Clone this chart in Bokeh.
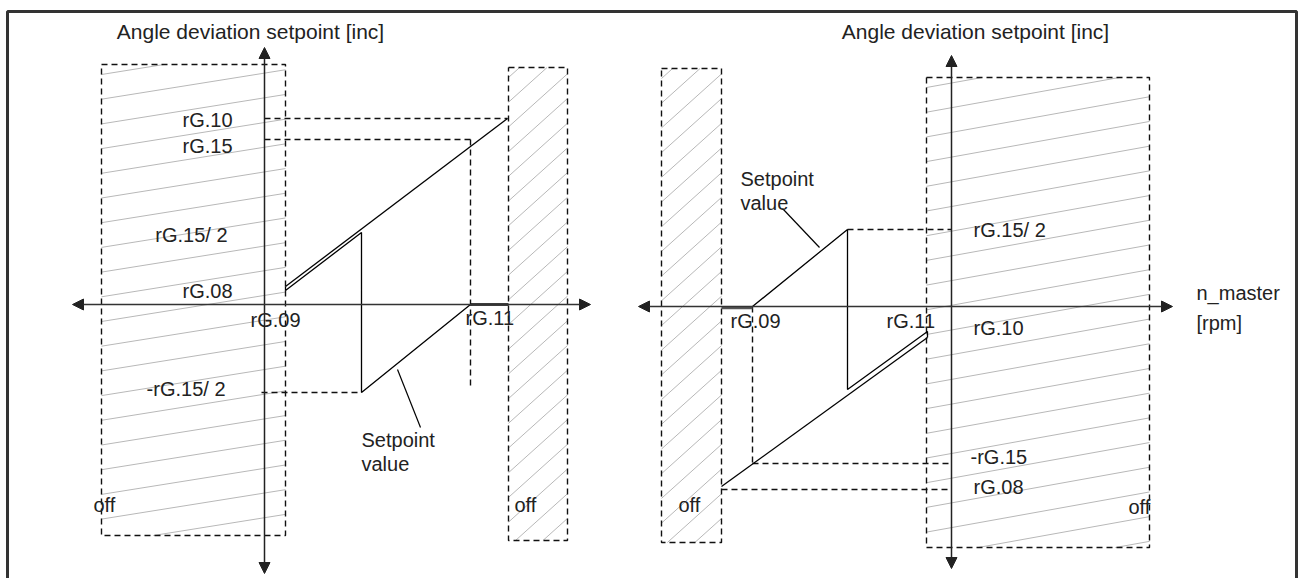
from bokeh.plotting import figure
from bokeh.models import Range1d, Arrow, NormalHead
from bokeh.embed import file_html
from bokeh.resources import INLINE
from bokeh.core.properties import value

# ---------------- diagram data (diagram units, y grows downward) ----------------
# Left diagram
L_axis_x = 264
L_axis_y = 304
L_v_axis = [47, 573]          # vertical axis extent
L_h_axis = [72, 590]          # horizontal axis extent
L_rG09 = 285
L_rG11 = 470
L_jump = 361
L_end = 507
L_rG10 = 118
L_rG15 = 139
L_rG08 = 288
L_half_pos = 230
L_half_neg = 392

# Right diagram
R_axis_x = 951
R_axis_y = 306
R_v_axis = [55, 568]
R_h_axis = [638, 1172]
R_start = 721
R_rG09 = 752
R_jump = 847
R_rG11 = 927
R_half_pos = 229
R_neg15 = 463
R_rG08 = 489
R_low_start = 486

# "off" zones: x0, x1, y0, y1, hatch slope
zones_x0 = [101, 508, 661, 926]
zones_x1 = [285, 567, 721, 1149]
zones_y0 = [64, 67, 68, 77]
zones_y1 = [535, 540, 542, 547]
zones_slope = [0.16, 0.9, 0.9, 0.18]

title_text = "Angle deviation setpoint [inc]"

ink = "#222222"
font = value("Liberation Sans")
FS = "20px"

p = figure(width=1304, height=578, output_backend="svg", toolbar_location=None,
           x_range=Range1d(0, 1304), y_range=Range1d(578, 0),
           x_axis_location=None, y_axis_location=None, min_border=0,
           background_fill_color="white", border_fill_color="white")
p.grid.visible = False
p.outline_line_color = None

# ---------------- outer frame ----------------
p.line([7, 7, 1296, 1296], [590, 11, 11, 590], line_color="#333333", line_width=3)

# ---------------- hatched "off" zones ----------------
def hatch(x0, x1, y0, y1, s, spacing=24.7):
    xs, ys = [], []
    c = y0 + 10
    cmax = y1 + s * (x1 - x0)
    while c < cmax:
        a = max(x0, x0 + (c - y1) / s)
        b = min(x1, x0 + (c - y0) / s)
        if b > a:
            xs.append([a, b])
            ys.append([c - s * (a - x0), c - s * (b - x0)])
        c += spacing
    return xs, ys

for x0, x1, y0, y1, s in zip(zones_x0, zones_x1, zones_y0, zones_y1, zones_slope):
    hx, hy = hatch(x0, x1, y0, y1, s)
    p.multi_line(hx, hy, line_color="#b8b8b8", line_width=1)
    p.line([x0, x1, x1, x0, x0], [y0, y0, y1, y1, y0], line_color="#111111",
           line_width=1.4, line_dash="6 4")

# ---------------- axes with arrows ----------------
for ax, ay, vy, hx in [(L_axis_x, L_axis_y, L_v_axis, L_h_axis),
                       (R_axis_x, R_axis_y, R_v_axis, R_h_axis)]:
    p.add_layout(Arrow(x_start=ax, y_start=vy[1], x_end=ax, y_end=vy[0],
                       line_color=ink, line_width=1.5,
                       start=NormalHead(size=11, fill_color=ink, line_color=ink),
                       end=NormalHead(size=11, fill_color=ink, line_color=ink)))
    p.add_layout(Arrow(x_start=hx[0], y_start=ay, x_end=hx[1], y_end=ay,
                       line_color="#333333", line_width=1.5,
                       start=NormalHead(size=11, fill_color=ink, line_color=ink),
                       end=NormalHead(size=11, fill_color=ink, line_color=ink)))

# ---------------- dashed guide lines ----------------
gx = [[L_axis_x, L_end], [L_axis_x, L_rG11], [L_rG11, L_rG11], [L_axis_x - 3, L_jump],
      [R_jump, R_axis_x], [R_rG09, R_axis_x], [R_start, R_axis_x], [R_rG09, R_rG09]]
gy = [[L_rG10, L_rG10], [L_rG15, L_rG15], [L_rG15, 388], [L_half_neg, L_half_neg],
      [R_half_pos, R_half_pos], [R_neg15, R_neg15], [R_rG08, R_rG08], [R_axis_y, R_neg15]]
p.multi_line(gx, gy, line_color="#111111", line_width=1.4, line_dash="6 4")

# ---------------- setpoint curves ----------------
# left
p.line([L_rG09, L_end], [286, L_rG10], line_color="black", line_width=1.3)
p.line([L_rG09, L_rG09, L_jump, L_jump, L_rG11], [286, 290, 232, L_half_neg, L_axis_y],
       line_color="black", line_width=1.3)
p.line([L_rG11, L_end + 1], [L_axis_y, L_axis_y], line_color="black", line_width=2.5)
p.line([397, 420], [369, 427], line_color="black", line_width=1.2)
# right
p.line([R_start, R_rG09], [R_axis_y + 1.5, R_axis_y + 1.5], line_color="#555555", line_width=2.5)
p.line([R_rG09, R_jump, R_jump, R_rG11, R_rG11], [R_axis_y, R_half_pos, 389, 331, 337],
       line_color="black", line_width=1.3)
p.line([R_start, R_rG11], [R_low_start, 337], line_color="black", line_width=1.3)
p.line([782, 819], [208, 247], line_color="black", line_width=1.2)

# ---------------- texts ----------------
def txt(x, y, s, align="left", size=FS):
    p.text(x=[x], y=[y], text=[s], text_align=align, text_baseline="middle",
           text_font=font, text_font_size=size, text_color=ink)

txt(250, 31, title_text, "center", "21px")
txt(975, 31, title_text, "center", "21px")

txt(232, 119, "rG.10", "right")
txt(232, 145, "rG.15", "right")
txt(227, 234, "rG.15/ 2", "right")
txt(232, 290, "rG.08", "right")
txt(225, 388, "-rG.15/ 2", "right")
txt(250, 319, "rG.09")
txt(465, 317, "rG.11")
txt(361, 439, "Setpoint")
txt(361, 463, "value")
txt(93, 504, "off")
txt(514, 504, "off")

txt(740, 178, "Setpoint")
txt(740, 202, "value")
txt(973, 229, "rG.15/ 2")
txt(973, 327, "rG.10")
txt(970, 456, "-rG.15")
txt(973, 486, "rG.08")
txt(1128, 506, "off")
txt(678, 504, "off")
txt(730, 320, "rG.09")
txt(886, 320, "rG.11")
txt(1196, 292, "n_master")
txt(1196, 322, "[rpm]")

open("out.html", "w").write(file_html(p, INLINE))
